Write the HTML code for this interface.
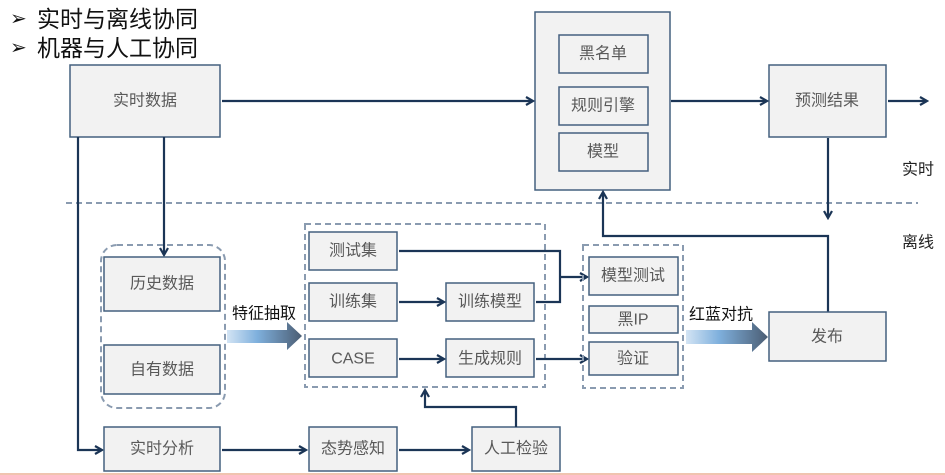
<!DOCTYPE html>
<html><head><meta charset="utf-8"><style>
body{margin:0;background:#fff;}
svg{display:block;}
text{font-family:"Liberation Sans","Noto Sans CJK SC",sans-serif;}
.b{fill:#f2f2f2;stroke:#44607f;stroke-width:1.5;}
.t{fill:#595959;font-size:16px;text-anchor:middle;dominant-baseline:central;}
.l{fill:none;stroke:#1b3556;stroke-width:2.2;}
.d{fill:none;stroke:#8a9bb0;stroke-width:2;stroke-dasharray:6,4;}
</style></head><body>
<svg width="945" height="475" viewBox="0 0 945 475" xmlns="http://www.w3.org/2000/svg">
<defs>
<marker id="a" markerWidth="10" markerHeight="10" refX="8" refY="5" orient="auto" markerUnits="userSpaceOnUse">
<path d="M1,1 L8,5 L1,9" fill="none" stroke="#1b3556" stroke-width="2.2"/></marker>
<linearGradient id="g" x1="0" x2="1" y1="0" y2="0">
<stop offset="0" stop-color="#d3e4f4"/><stop offset="0.4" stop-color="#7fb0dd"/><stop offset="1" stop-color="#4b5d73"/></linearGradient>
</defs>
<text x="10" y="19" font-size="20" dominant-baseline="central" fill="#111">➢</text>
<text x="37" y="19" font-size="23" dominant-baseline="central" fill="#111">实时与离线协同</text>
<text x="10" y="48" font-size="20" dominant-baseline="central" fill="#111">➢</text>
<text x="37" y="48" font-size="23" dominant-baseline="central" fill="#111">机器与人工协同</text>

<line x1="66" y1="203" x2="918" y2="203" class="d" stroke-dasharray="8,4"/>

<rect class="b" x="70" y="65" width="150" height="72"/><text class="t" x="145" y="101">实时数据</text>
<rect class="b" x="535" y="12" width="135" height="178"/>
<rect class="b" x="559" y="35" width="89" height="38"/><text class="t" x="603" y="54">黑名单</text>
<rect class="b" x="559" y="87" width="89" height="38"/><text class="t" x="603" y="106">规则引擎</text>
<rect class="b" x="559" y="133" width="89" height="38"/><text class="t" x="603" y="152">模型</text>
<rect class="b" x="769" y="65" width="117" height="72"/><text class="t" x="827" y="101">预测结果</text>
<text x="918" y="170" font-size="16" text-anchor="middle" dominant-baseline="central" fill="#222">实时</text>
<text x="918" y="243" font-size="16" text-anchor="middle" dominant-baseline="central" fill="#222">离线</text>

<path class="l" d="M222,101 H533" marker-end="url(#a)"/>
<path class="l" d="M671,101 H767" marker-end="url(#a)"/>
<path class="l" d="M888,101 H927" marker-end="url(#a)"/>
<path class="l" d="M828,138 V218" marker-end="url(#a)"/>
<path class="l" d="M828,312 V236 H603 V192" marker-end="url(#a)"/>
<path class="l" d="M78,137 V450 H102" marker-end="url(#a)"/>
<path class="l" d="M164,137 V255" marker-end="url(#a)"/>

<rect class="d" x="101" y="245" width="124" height="163" rx="16"/>
<rect class="b" x="104" y="257" width="116" height="54"/><text class="t" x="162" y="284">历史数据</text>
<rect class="b" x="104" y="345" width="116" height="49"/><text class="t" x="162" y="370">自有数据</text>
<text x="264" y="314" font-size="16" text-anchor="middle" dominant-baseline="central" fill="#111">特征抽取</text>
<path d="M227,330 H287 V322 L302,336 L287,350 V343 H227 Z" fill="url(#g)"/>

<rect class="d" x="305" y="224" width="240" height="163"/>
<rect class="b" x="309" y="232" width="88" height="38"/><text class="t" x="353" y="251">测试集</text>
<rect class="b" x="309" y="283" width="88" height="38"/><text class="t" x="353" y="302">训练集</text>
<rect class="b" x="309" y="339" width="88" height="38"/><text class="t" x="353" y="359">CASE</text>
<rect class="b" x="446" y="283" width="88" height="38"/><text class="t" x="490" y="302">训练模型</text>
<rect class="b" x="446" y="339" width="88" height="38"/><text class="t" x="490" y="359">生成规则</text>
<path class="l" d="M399,302 H444" marker-end="url(#a)"/>
<path class="l" d="M399,359 H444" marker-end="url(#a)"/>
<path class="l" d="M399,251 H560 V302 H536"/>
<path class="l" d="M560,277 H587" marker-end="url(#a)"/>
<path class="l" d="M536,359 H587" marker-end="url(#a)"/>

<rect class="d" x="583" y="245" width="100" height="143"/>
<rect class="b" x="589" y="257" width="89" height="38"/><text class="t" x="633" y="276">模型测试</text>
<rect class="b" x="589" y="306" width="89" height="27"/><text class="t" x="633" y="320">黑IP</text>
<rect class="b" x="589" y="342" width="89" height="33"/><text class="t" x="633" y="359">验证</text>
<text x="721" y="315" font-size="16" text-anchor="middle" dominant-baseline="central" fill="#111">红蓝对抗</text>
<path d="M686,330 H752 V322 L768,337 L752,352 V344 H686 Z" fill="url(#g)"/>
<rect class="b" x="769" y="312" width="117" height="49"/><text class="t" x="827" y="337">发布</text>

<rect class="b" x="104" y="427" width="116" height="44"/><text class="t" x="162" y="449">实时分析</text>
<rect class="b" x="309" y="427" width="88" height="44"/><text class="t" x="353" y="449">态势感知</text>
<rect class="b" x="472" y="427" width="88" height="44"/><text class="t" x="516" y="449">人工检验</text>
<path class="l" d="M222,450 H306" marker-end="url(#a)"/>
<path class="l" d="M399,450 H469" marker-end="url(#a)"/>
<path class="l" d="M516,427 V407 H425 V390" marker-end="url(#a)"/>
<line x1="0" y1="474" x2="945" y2="474" stroke="#f0c4b0" stroke-width="2"/>
</svg>
</body></html>
